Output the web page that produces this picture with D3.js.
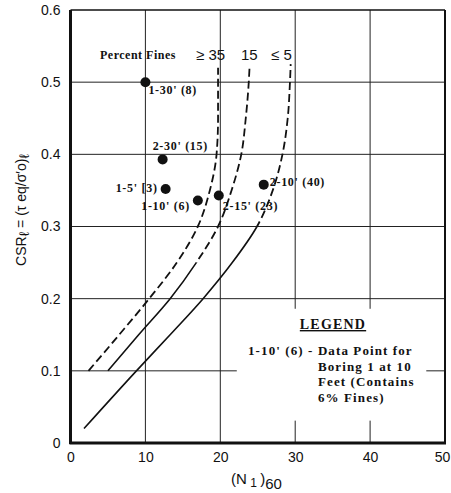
<!DOCTYPE html>
<html>
<head>
<meta charset="utf-8">
<script src="https://cdn.jsdelivr.net/npm/d3@7"></script>
<style>
  body { margin: 0; background: #fff; }
  svg { display: block; }
  .tick text { font-family: "Liberation Sans", Arial, sans-serif; font-size: 14px; fill: #111; }
  .lbl { font-family: "Liberation Serif", serif; font-weight: bold; font-size: 12px; fill: #111; letter-spacing: 0.7px; }
  .leg { font-size: 13px; letter-spacing: 1.1px; }
</style>
</head>
<body>
<div class="container"></div>
<script>
// data: [ (N1)60 , CSR ]
const xTicks = [0, 10, 20, 30, 40, 50];
const yTicks = [0, 0.1, 0.2, 0.3, 0.4, 0.5, 0.6];

const fines35 = [[2.4, 0.10], [6.5, 0.15], [10.5, 0.20], [14.2, 0.25], [17.0, 0.30], [18.6, 0.35],
                 [19.5, 0.40], [19.7, 0.45], [19.7, 0.50], [19.7, 0.52]];
const fines15 = [[5.0, 0.10], [9.1, 0.15], [13.3, 0.20], [16.8, 0.25], [19.7, 0.30], [21.5, 0.35],
                 [22.8, 0.40], [23.4, 0.45], [23.8, 0.50], [23.9, 0.52]];
const fines5 = [[1.8, 0.02], [8.8, 0.10], [13.3, 0.15], [17.7, 0.20], [21.6, 0.25], [24.9, 0.30],
                [27.0, 0.35], [28.3, 0.40], [29.0, 0.45], [29.3, 0.50], [29.4, 0.525]];
// csr above which each curve is drawn dashed
const curves = [
  { name: '>=35', pts: fines35, dashAbove: 0 },
  { name: '15', pts: fines15, dashAbove: 0.25 },
  { name: '<=5', pts: fines5, dashAbove: 0.30 }
];

const pointLabels = ["1-30' (8)", "2-30' (15)", "1-5' [3)", "1-10' (6)", "2-15' (23)", "2-10' (40)"];
const pointN = [10, 12.3, 12.7, 17.0, 19.8, 25.8];
const pointCsr = [0.5, 0.393, 0.352, 0.336, 0.343, 0.358];

const w = 451, h = 493;
const pl = 70.5, pr = 445, pt = 10, pb = 443;

const svg = d3.select('.container').append('svg')
  .attr('width', w).attr('height', h);

const x = d3.scaleLinear().domain([0, 50]).range([pl, pr]);
const y = d3.scaleLinear().domain([0, 0.6]).range([pb, pt]);

// grid
const grid = svg.append('g').attr('stroke', '#222').attr('stroke-width', 1);
grid.selectAll('line.v').data(xTicks.slice(1, -1)).enter().append('line')
  .attr('x1', d => x(d)).attr('x2', d => x(d)).attr('y1', pt).attr('y2', pb);
grid.selectAll('line.h').data(yTicks.slice(1, -1)).enter().append('line')
  .attr('y1', d => y(d)).attr('y2', d => y(d)).attr('x1', pl).attr('x2', pr);

// white patch behind the legend
svg.append('rect')
  .attr('x', x(22.2)).attr('y', y(0.186))
  .attr('width', x(47.5) - x(22.2)).attr('height', y(0.031) - y(0.186))
  .attr('fill', '#fff');

// frame
svg.append('line').attr('x1', pl).attr('x2', pr).attr('y1', pt).attr('y2', pt)
  .attr('stroke', '#111').attr('stroke-width', 1.5);
svg.append('line').attr('x1', pr).attr('x2', pr).attr('y1', pt).attr('y2', pb)
  .attr('stroke', '#111').attr('stroke-width', 2);
svg.append('line').attr('x1', pl).attr('x2', pl).attr('y1', pt).attr('y2', pb + 1)
  .attr('stroke', '#111').attr('stroke-width', 3);
svg.append('line').attr('x1', pl - 1).attr('x2', pr + 1).attr('y1', pb).attr('y2', pb)
  .attr('stroke', '#111').attr('stroke-width', 3);

// axes (labels only)
const xAxis = d3.axisBottom(x).tickValues(xTicks).tickSize(0).tickPadding(9).tickFormat(d3.format('d'));
const yAxis = d3.axisLeft(y).tickValues(yTicks).tickSize(0).tickPadding(10)
  .tickFormat(d => d === 0 ? '0' : d3.format('.1f')(d));
svg.append('g').attr('transform', `translate(0,${pb})`).call(xAxis)
  .call(g => g.select('.domain').remove())
  .call(g => g.selectAll('.tick text').filter(d => d === 50).attr('dx', -3));
svg.append('g').attr('transform', `translate(${pl},0)`).call(yAxis).call(g => g.select('.domain').remove());

// curves
const line = d3.line().x(d => x(d[0])).y(d => y(d[1])).curve(d3.curveMonotoneY);
const defs = svg.append('defs');
curves.forEach((c, i) => {
  const yb = y(c.dashAbove);
  defs.append('clipPath').attr('id', 'dash' + i).append('rect')
    .attr('x', 0).attr('y', 0).attr('width', w).attr('height', yb);
  defs.append('clipPath').attr('id', 'solid' + i).append('rect')
    .attr('x', 0).attr('y', yb).attr('width', w).attr('height', h - yb);
  const d = line(c.pts.slice().sort((a, b) => a[1] - b[1]));
  svg.append('path').attr('d', d).attr('fill', 'none').attr('stroke', '#111')
    .attr('stroke-width', 1.6).attr('clip-path', `url(#solid${i})`);
  svg.append('path').attr('d', d).attr('fill', 'none').attr('stroke', '#111')
    .attr('stroke-width', 1.8).attr('stroke-dasharray', '8,4').attr('clip-path', `url(#dash${i})`);
});

// points
const pts = pointLabels.map((t, i) => ({ t, n: pointN[i], c: pointCsr[i] }));
svg.selectAll('circle.pt').data(pts).enter().append('circle')
  .attr('cx', d => x(d.n)).attr('cy', d => y(d.c)).attr('r', 5).attr('fill', '#111');

const offs = [[3, 12, 'start'], [-10, -9, 'start'], [-8, 3, 'end'], [-8, 9, 'end'], [4, 15, 'start'], [6, 1, 'start']];
svg.selectAll('text.pl').data(pts).enter().append('text').attr('class', 'lbl')
  .attr('x', (d, i) => x(d.n) + offs[i][0]).attr('y', (d, i) => y(d.c) + offs[i][1])
  .attr('text-anchor', (d, i) => offs[i][2]).text(d => d.t);

// curve header
svg.append('text').attr('class', 'lbl').attr('x', 100).attr('y', 59).style('letter-spacing', '0.5px').text('Percent Fines');
const hdr = svg.append('text').attr('y', 60)
  .style('font-family', '"Liberation Sans", Arial, sans-serif').style('font-size', '15px').attr('fill', '#111');
hdr.append('tspan').attr('x', 196).text('\u2265 35');
hdr.append('tspan').attr('x', 241).text('15');
hdr.append('tspan').attr('x', 271).text('\u2264 5');

// legend
svg.append('text').attr('class', 'lbl').attr('x', 333).attr('y', 329)
  .attr('text-anchor', 'middle').style('font-size', '14px').style('letter-spacing', '1.2px')
  .style('text-decoration', 'underline').text('LEGEND');
const leg = ["1-10' (6) - Data Point for", 'Boring 1 at 10', 'Feet (Contains', '6% Fines)'];
svg.selectAll('text.lg').data(leg).enter().append('text').attr('class', 'lbl leg')
  .attr('x', (d, i) => i === 0 ? 248 : 318).attr('y', (d, i) => 355 + i * 15.5).text(d => d);

// axis titles
const xt = svg.append('text').attr('x', 231).attr('y', 484)
  .style('font-family', '"Liberation Sans", Arial, sans-serif').style('font-size', '15px').attr('fill', '#111');
xt.append('tspan').text('(N');
xt.append('tspan').attr('dy', 3).style('font-size', '12px').text(' 1 ');
xt.append('tspan').attr('dy', -3).text(')');
xt.append('tspan').attr('dy', 5).text('60');

const yt = svg.append('text').attr('transform', 'translate(26,210) rotate(-90)').attr('text-anchor', 'middle')
  .style('font-family', '"Liberation Sans", Arial, sans-serif').style('font-size', '14px').attr('fill', '#111');
yt.append('tspan').text('CSR');
yt.append('tspan').attr('dy', 3).text('\u2113');
yt.append('tspan').attr('dy', -3).text(' = (\u03c4 eq/\u03c3\u2032o)');
yt.append('tspan').attr('dy', 3).text('\u2113');
</script>
</body>
</html>
